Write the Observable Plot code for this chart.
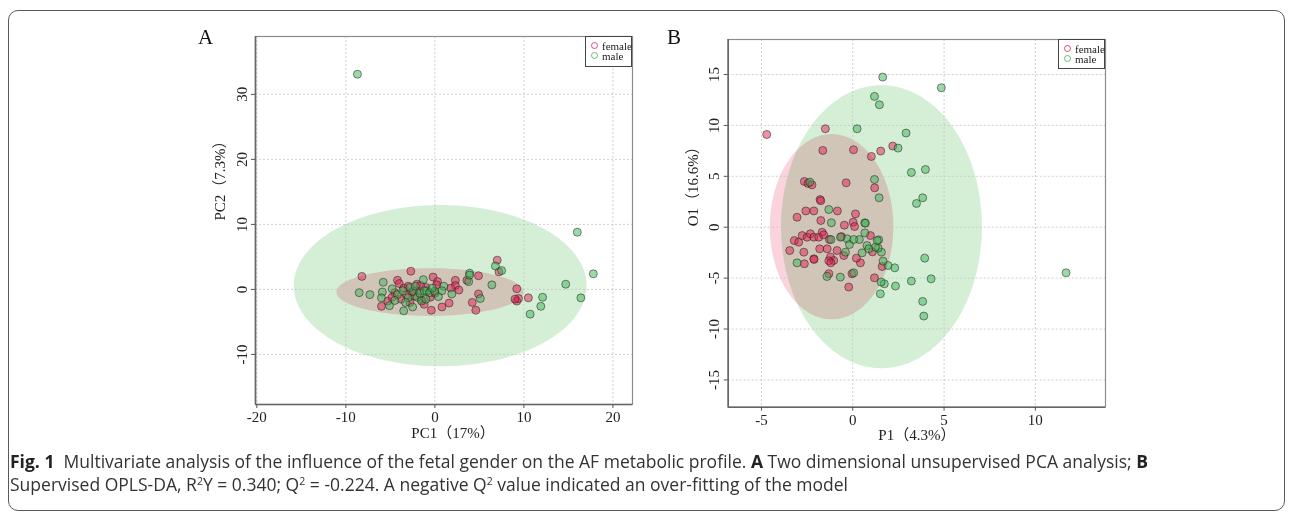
<!DOCTYPE html>
<html><head><meta charset="utf-8">
<script src="https://cdn.jsdelivr.net/npm/d3@7"></script>
<script src="https://cdn.jsdelivr.net/npm/@observablehq/plot@0.6"></script>
<style>
html,body{margin:0;padding:0;background:#fff;}
#root{position:relative;width:1292px;height:513px;overflow:hidden;background:#fff;}
#border{position:absolute;left:8px;top:10px;width:1277px;height:501px;border:1.5px solid #5a5a5a;border-radius:10px;box-sizing:border-box;}
.plot{position:absolute;}
.plab{position:absolute;font-family:'Liberation Serif','Times New Roman',serif;font-size:21px;line-height:21px;color:#111;}
.legend{position:absolute;border:1px solid #444;background:#fff;box-sizing:border-box;font-family:'Liberation Serif','Times New Roman',serif;font-size:11px;line-height:10px;color:#222;padding:4px 0 0 5px;}
.legend .it{white-space:nowrap;height:10px;}
.legend .c{display:inline-block;width:5px;height:5px;border-radius:50%;border:1.2px solid;margin-right:4px;vertical-align:1px;}
#cap{position:absolute;left:10px;top:450px;font-family:'Open Sans','Noto Sans',sans-serif;font-size:18px;color:#333;}
#cap .ln{white-space:nowrap;transform-origin:0 0;line-height:22px;height:23px;}
#cap b{color:#222;}
#cap sup{font-size:0.6em;vertical-align:baseline;position:relative;top:-0.55em;}
</style></head>
<body><div id="root">
<div id="border"></div>
<div id="plotA" class="plot" style="left:180px;top:20px;"></div>
<div id="plotB" class="plot" style="left:660px;top:20px;"></div>
<div class="plab" style="left:198px;top:27px;">A</div>
<div class="plab" style="left:667px;top:27px;">B</div>
<div id="legA" class="legend" style="left:585px;top:36px;width:47px;height:31px;"></div>
<div id="legB" class="legend" style="left:1058px;top:39px;width:47px;height:30px;"></div>
<div id="cap">
<div class="ln" id="l1"><b>Fig. 1</b>&nbsp; Multivariate analysis of the influence of the fetal gender on the AF metabolic profile. <b>A</b> Two dimensional unsupervised PCA analysis; <b>B</b></div>
<div class="ln" id="l2">Supervised OPLS-DA, R<sup>2</sup>Y = 0.340; Q<sup>2</sup> = -0.224. A negative Q<sup>2</sup> value indicated an over-fitting of the model</div>
</div>
</div>
<script>
// ---------- data ----------
const groups = ["female", "male"];
const groupColors = ["#e3204f", "#3cb452"];
const ellipseColors = ["#fad3dc", "#d5efd6"];

// Panel A: PCA scores (PC1, PC2)
const femaleA = [
  [-8.2, 2.0], [-2.7, 2.8], [-4.2, 1.4], [-4.0, 0.9], [-6.0, -2.6], [-5.3, -1.8], [-0.2, 1.9], [0.3, 1.2],
  [0.2, 0.7], [2.3, 1.4], [2.3, 0.6], [2.7, -0.1], [-0.4, -3.2], [0.8, -2.7], [1.6, -2.1], [4.2, -2.0],
  [4.6, -3.2], [4.9, -0.7], [4.9, 2.1], [3.6, 1.4], [7.0, 4.5], [7.2, 2.7], [9.2, 0.1], [9.2, -1.8],
  [9.4, -1.4], [10.5, -1.3], [9.0, -1.5], [-4.5, -0.5], [-3.8, -1.5], [-3.2, -0.8], [-2.8, -2.0], [-2.3, -1.0],
  [-1.8, -0.3], [-1.5, -1.6], [-1.0, 0.3], [-0.5, -1.2], [-3.5, 0.2], [-2.0, 0.8], [-1.2, -2.3], [0.0, -0.6],
  [-4.8, -1.2], [-2.6, -0.4], [1.8, 0.2], [-3.0, 0.5], [-1.6, 0.6]
];
const maleA = [
  [-8.5, -0.5], [-7.3, -0.8], [-5.8, 1.1], [-5.9, -0.4], [-6.0, -1.3], [-5.1, -2.5], [-3.5, -3.3], [-2.5, -2.7],
  [-1.3, 1.5], [-0.9, -0.2], [1.0, 0.5], [1.9, -0.7], [3.9, 2.5], [3.8, 1.2], [3.9, 2.2], [5.1, -1.4],
  [6.4, 0.7], [6.8, 3.6], [7.5, 2.9], [10.7, -3.8], [11.9, -2.6], [12.1, -1.2], [14.7, 0.8], [16.0, 8.8],
  [16.4, -1.3], [17.8, 2.4], [-8.7, 33.1], [-4.8, 0.1], [-4.2, -0.8], [-3.6, -0.2], [-3.0, -1.3], [-2.4, -0.3],
  [-2.0, -1.2], [-1.7, -0.6], [-1.2, -0.2], [-0.6, -0.5], [0.0, -0.3], [0.4, -1.1], [-2.8, 0.3], [-1.5, -1.8],
  [-0.3, 0.2], [-4.5, -1.7], [-3.3, -2.0], [-2.2, 0.5], [0.8, -0.2], [-1.0, -1.5]
];
// confidence ellipses: [cx, cy, rx, ry]
const ellipseA = { female: [-0.5, -0.48, 10.5, 3.67], male: [0.65, 0.5, 16.45, 12.4] };
const xTicksA = [-20, -10, 0, 10, 20];
const yTicksA = [-10, 0, 10, 20, 30];
const xDomainA = [-20.15, 22.2];
const yDomainA = [-17.7, 38.9];
const xLabelA = "PC1（17%）";
const yLabelA = "PC2（7.3%）";

// Panel B: OPLS-DA scores (P1, O1)
const femaleB = [
  [-4.71, 9.11], [-1.50, 9.67], [-1.64, 7.54], [0.04, 7.61], [1.53, 7.48], [1.02, 6.95], [2.19, 7.97],
  [-2.65, 4.49], [-2.45, 4.3], [-2.23, 4.16], [-0.36, 4.36], [1.20, 3.87], [-1.79, 2.72], [-1.75, 2.6],
  [-3.05, 0.98], [-2.57, 1.6], [-2.13, 1.6], [-0.84, 1.6], [-1.75, 0.66], [-0.46, 0.2], [0.02, 0.49],
  [0.15, 1.31], [0.1, 0.07], [-3.2, -1.31], [-2.96, -1.47], [-2.77, -0.82], [-2.5, -0.98], [-2.32, -0.65],
  [-2.13, -0.98], [-1.86, -0.98], [-1.68, -0.5], [-1.59, -0.75], [-3.45, -2.29], [-2.68, -2.45], [-2.13, -3.1],
  [-1.81, -2.12], [-1.40, -2.12], [-1.22, -2.94], [-1.04, -3.27], [-1.31, -3.3], [-1.2, -3.5], [-0.86, -2.29],
  [-0.49, -2.78], [-0.62, -0.92], [0.97, -0.82], [1.08, -2.42], [0.42, -3.5], [0.20, -3.04], [-0.04, -4.58],
  [-0.22, -5.88], [1.19, -4.97], [1.61, -3.86], [-1.31, -4.58], [-2.65, -3.59], [-2.12, -3.17], [-1.28, -1.2]
];
const maleB = [
  [1.64, 14.75], [4.85, 13.7], [1.19, 12.85], [1.46, 12.03], [0.24, 9.67], [2.92, 9.25], [2.48, 7.77],
  [3.21, 5.38], [3.98, 5.67], [1.19, 4.69], [1.44, 2.89], [3.83, 2.89], [3.49, 2.33], [-2.35, 4.43],
  [-1.31, 1.74], [-1.17, 0.44], [0.66, 0.43], [0.69, 0.39], [11.68, -4.48], [3.94, -3.04], [4.29, -5.07],
  [3.21, -5.29], [3.83, -7.29], [3.89, -8.73], [2.34, -5.78], [1.51, -6.54], [1.73, -5.56], [1.55, -5.39],
  [2.30, -3.99], [1.93, -3.76], [1.66, -3.33], [1.57, -2.45], [1.39, -2.06], [1.42, -1.24], [0.66, -0.56],
  [0.36, -1.21], [0.51, -2.52], [0.78, -1.8], [-0.31, -1.14], [-0.18, -1.70], [0.05, -1.21], [-1.19, -1.21],
  [-0.40, -2.45], [-0.68, -4.9], [0.05, -4.48], [-1.41, -4.84], [-3.05, -3.5], [1.24, -1.96], [0.88, -2.12],
  [-0.67, -0.98], [1.34, -1.31]
];
const ellipseB = { female: [-1.13, 0.0, 3.38, 9.1], male: [1.6, 0.0, 5.5, 13.9] };
const xTicksB = [-5, 0, 5, 10];
const yTicksB = [-15, -10, -5, 0, 5, 10, 15];
const xDomainB = [-6.82, 13.84];
const yDomainB = [-17.68, 18.44];
const xLabelB = "P1（4.3%）";
const yLabelB = "O1（16.6%）";

// ---------- drawing ----------
const serif = "'Liberation Serif','Times New Roman','Noto Sans CJK SC',serif";
const hyphenFormat = d => String(d);

function ellipseOutline(e, n = 160) {
  const [cx, cy, rx, ry] = e;
  return d3.range(n + 1).map(i => {
    const t = Math.PI * i / n;
    return { x: cx + rx * Math.cos(t), y1: cy - ry * Math.sin(t), y2: cy + ry * Math.sin(t) };
  });
}

function panel({ female, male, ell, xTicks, yTicks, xDomain, yDomain, xLabel, yLabel, width, height, margins, xLabelDx, yLabelDy }) {
  const [mt, mr, mb, ml] = margins;
  return Plot.plot({
    width, height,
    marginTop: mt, marginRight: mr, marginBottom: mb, marginLeft: ml,
    x: { domain: xDomain },
    y: { domain: yDomain },
    style: { fontFamily: serif, fontSize: "15px", color: "#222", background: "transparent", overflow: "visible" },
    marks: [
      Plot.areaY(ellipseOutline(ell.male), { x: "x", y1: "y1", y2: "y2", fill: ellipseColors[1], mixBlendMode: "multiply" }),
      Plot.areaY(ellipseOutline(ell.female), { x: "x", y1: "y1", y2: "y2", fill: ellipseColors[0], mixBlendMode: "multiply" }),
      Plot.gridX(xTicks, { stroke: "#c4c4c4", strokeOpacity: 1, strokeDasharray: "2,2", strokeWidth: 0.8 }),
      Plot.gridY(yTicks, { stroke: "#c4c4c4", strokeOpacity: 1, strokeDasharray: "2,2", strokeWidth: 0.8 }),
      Plot.dot(female, { x: d => d[0], y: d => d[1], r: 4, fill: groupColors[0], fillOpacity: 0.5, stroke: "#222", strokeOpacity: 0.6, strokeWidth: 0.9 }),
      Plot.dot(male, { x: d => d[0], y: d => d[1], r: 4, fill: groupColors[1], fillOpacity: 0.5, stroke: "#222", strokeOpacity: 0.6, strokeWidth: 0.9 }),
      Plot.frame({ stroke: "#8c8c8c", strokeWidth: 1.2 }),
      Plot.ruleX([xDomain[0]], { stroke: "#666", strokeWidth: 1.6 }),
      Plot.ruleY([yDomain[0]], { stroke: "#666", strokeWidth: 1.6 }),
      Plot.axisX(xTicks, { tickSize: 4, tickPadding: 3, stroke: "#555", fontSize: 15, label: null, tickFormat: hyphenFormat }),
      Plot.axisY(yTicks, { tickSize: 4, tickRotate: -90, stroke: "#555", fontSize: 15, label: null, tickFormat: hyphenFormat }),
      Plot.text([xLabel], { text: d => d, frameAnchor: "bottom", dy: 33, dx: xLabelDx, fontSize: 15 }),
      Plot.text([yLabel], { text: d => d, frameAnchor: "left", dx: -35, dy: yLabelDy, rotate: -90, fontSize: 15 })
    ]
  });
}

document.getElementById("plotA").appendChild(panel({
  female: femaleA, male: maleA, ell: ellipseA, xTicks: xTicksA, yTicks: yTicksA,
  xDomain: xDomainA, yDomain: yDomainA, xLabel: xLabelA, yLabel: yLabelA,
  width: 470, height: 440, margins: [16, 18, 56, 75], xLabelDx: 9, yLabelDy: 0
}));
document.getElementById("plotB").appendChild(panel({
  female: femaleB, male: maleB, ell: ellipseB, xTicks: xTicksB, yTicks: yTicksB,
  xDomain: xDomainB, yDomain: yDomainB, xLabel: xLabelB, yLabel: yLabelB,
  width: 460, height: 440, margins: [19, 15, 53.3, 67.7], xLabelDx: 0, yLabelDy: 3
}));

for (const id of ["legA", "legB"]) {
  const el = document.getElementById(id);
  el.innerHTML = groups.map((g, i) =>
    `<div class="it"><span class="c" style="border-color:${groupColors[i]};opacity:0.8"></span>${g}</div>`).join("");
}

// fit caption width to the reference line length
const l1 = document.getElementById("l1"), l2 = document.getElementById("l2");
const w = l1.getBoundingClientRect().width;
const target = 1138;
const s = target / w;
l1.style.transform = `scaleX(${s})`;
l2.style.transform = `scaleX(${s})`;
</script>
</body></html>
